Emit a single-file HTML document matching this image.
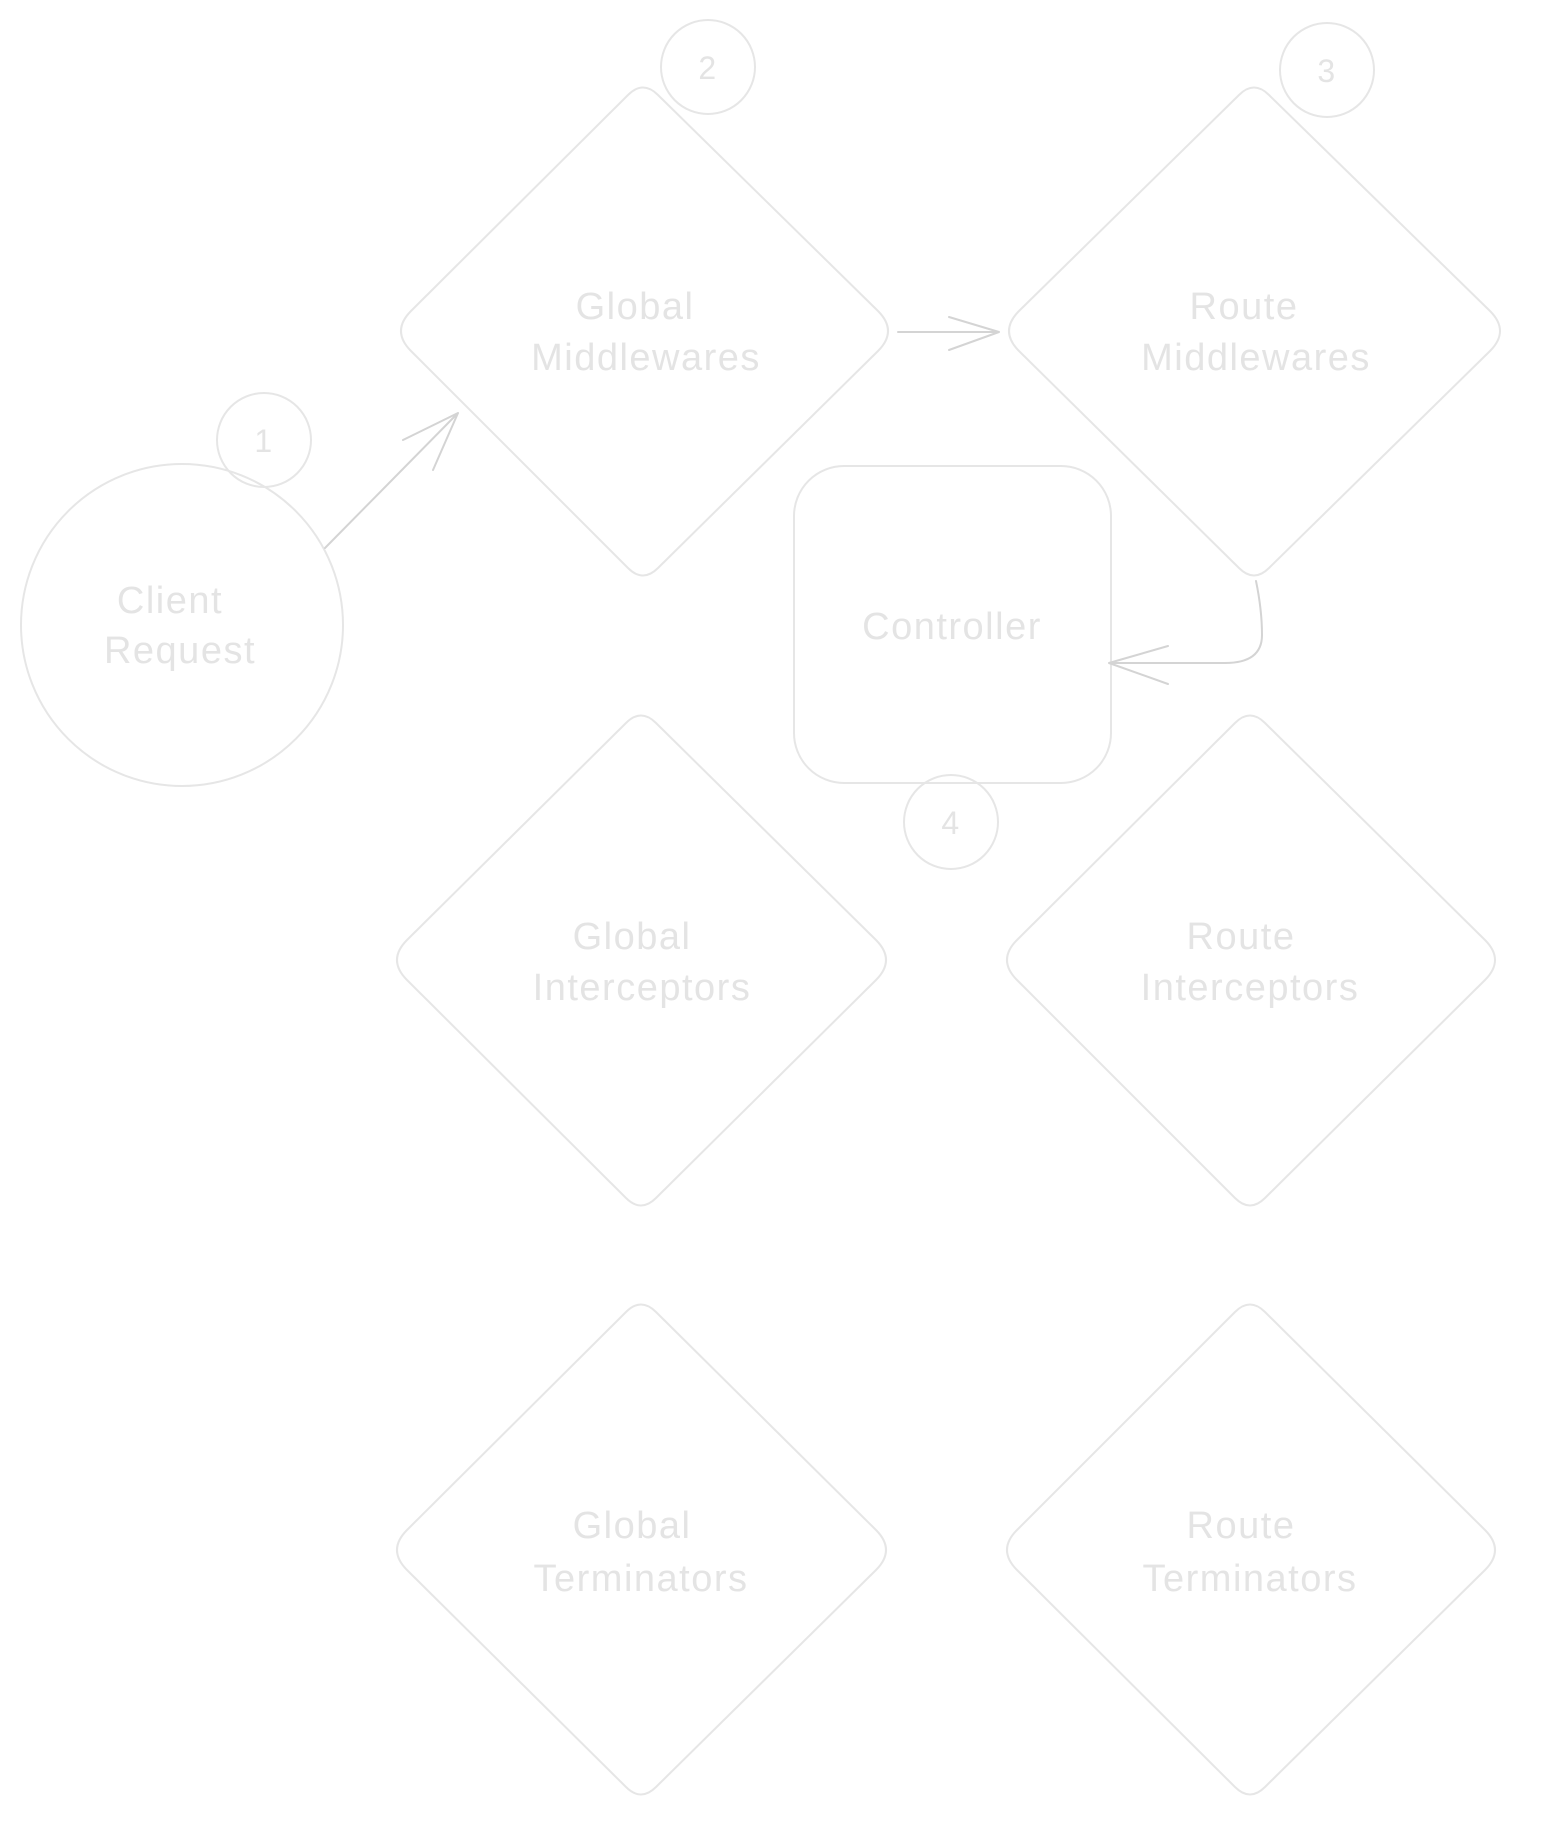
<!DOCTYPE html>
<html><head><meta charset="utf-8"><style>
html,body{margin:0;padding:0;background:#fff;}
svg{display:block;}
text{font-family:"Liberation Sans",sans-serif;font-size:38px;letter-spacing:1.5px;fill:#e4e4e4;text-anchor:middle;}
</style></head><body>
<svg width="1544" height="1839" viewBox="0 0 1544 1839" xmlns="http://www.w3.org/2000/svg">
<g fill="none" stroke="#e6e6e6" stroke-width="2" stroke-linejoin="round">
<path d="M628,95 Q643,80 658,95 L878,311 Q898,331 878,351 L658,568 Q643,583 628,568 L411,351 Q391,331 411,311 Z"/>
<path d="M1239,95 Q1254,80 1269,95 L1490,311 Q1510,331 1490,351 L1269,568 Q1254,583 1239,568 L1019,351 Q999,331 1019,311 Z"/>
<path d="M626,723 Q641,708 656,723 L876,940 Q896,960 876,980 L656,1198 Q641,1213 626,1198 L407,980 Q387,960 407,940 Z"/>
<path d="M1235,723 Q1250,708 1265,723 L1485,940 Q1505,960 1485,980 L1265,1198 Q1250,1213 1235,1198 L1017,980 Q997,960 1017,940 Z"/>
<path d="M626,1312 Q641,1297 656,1312 L876,1530 Q896,1550 876,1570 L656,1787 Q641,1802 626,1787 L407,1570 Q387,1550 407,1530 Z"/>
<path d="M1235,1312 Q1250,1297 1265,1312 L1485,1530 Q1505,1550 1485,1570 L1265,1787 Q1250,1802 1235,1787 L1017,1570 Q997,1550 1017,1530 Z"/>
<circle cx="182" cy="625" r="161"/>
<rect x="794" y="466" width="317" height="317" rx="50"/>
<circle cx="264" cy="440" r="47"/>
<circle cx="708" cy="67" r="47"/>
<circle cx="1327" cy="70" r="47"/>
<circle cx="951" cy="822" r="47"/>
</g>
<g fill="none" stroke="#d4d4d4" stroke-width="2" stroke-linecap="round">
<path d="M325,548 L458,413 M458,413 L403,440 M458,413 L433,470"/>
<path d="M898,332 L999,332 M999,332 L949,317 M999,332 L949,350"/>
<path d="M1256,581 Q1262,610 1262,635 Q1262,663 1225,663 L1109,663 M1109,663 L1168,646 M1109,663 L1168,684"/>
</g>
<text x="635" y="319">Global</text><text x="646" y="370">Middlewares</text>
<text x="1244" y="319">Route</text><text x="1256" y="370">Middlewares</text>
<text x="632" y="949">Global</text><text x="642" y="1000">Interceptors</text>
<text x="1241" y="949">Route</text><text x="1250" y="1000">Interceptors</text>
<text x="632" y="1538">Global</text><text x="641" y="1591">Terminators</text>
<text x="1241" y="1538">Route</text><text x="1250" y="1591">Terminators</text>
<text x="170" y="613">Client</text><text x="180" y="663">Request</text>
<text x="952" y="639">Controller</text>
<text x="264" y="452" style="font-size:32px">1</text>
<text x="708" y="79" style="font-size:32px">2</text>
<text x="1327" y="82" style="font-size:32px">3</text>
<text x="951" y="834" style="font-size:32px">4</text>
</svg>
</body></html>
